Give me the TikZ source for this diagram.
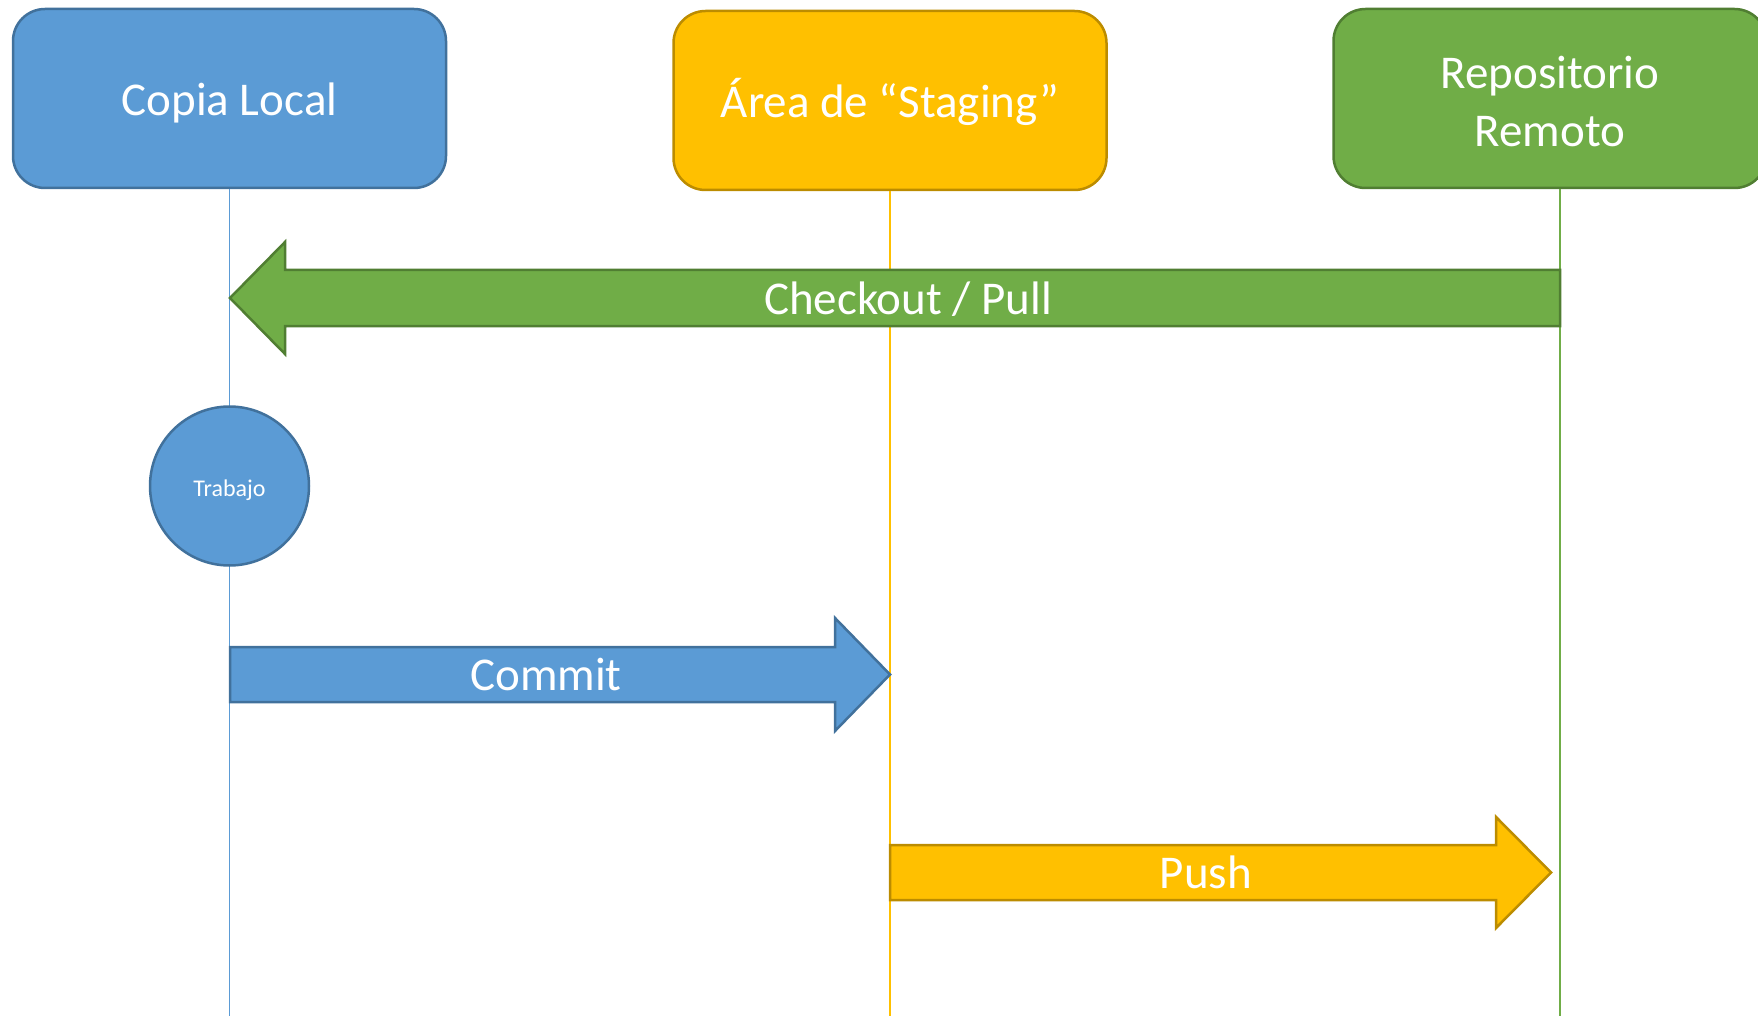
\documentclass[tikz,border=0pt]{standalone}
\usepackage{fontspec}
\setmainfont{Carlito}
\usepackage{tikz}
\definecolor{gitblue}{HTML}{5B9BD5}
\definecolor{gitblueline}{HTML}{41719C}
\definecolor{gityellow}{HTML}{FFC000}
\definecolor{gityellowline}{HTML}{BC8C00}
\definecolor{gitgreen}{HTML}{70AD47}
\definecolor{gitgreenline}{HTML}{507E32}
\tikzset{
    lane/.style={rectangle, rounded corners=32pt, minimum width=433pt, minimum height=179pt,
        line width=2.5pt, text=white, align=center, font=\fontsize{47}{58}\selectfont},
    one line/.style={text height=45pt, text depth=10pt},
    lifeline/.style={line width=1.5pt},
    block/.style={line width=2.5pt, line join=miter},
    block label/.style={text=white, font=\fontsize{47}{58}\selectfont, text height=42pt, text depth=10pt},
}

\begin{document}
\begin{tikzpicture}[x=1pt, y=-1pt]
\useasboundingbox (0,0) rectangle (1758,1016);
\clip (0,0) rectangle (1758,1016);

% heads of the lanes
\node[lane, one line, fill=gitblue, draw=gitblueline] (local) at (229.5,98.5) {Copia Local};
\node[lane, one line, fill=gityellow, draw=gityellowline] (staging) at (890,100.5) {Área de “Staging”};
\node[lane, fill=gitgreen, draw=gitgreenline] (remote) at (1550,98.5) {\rule{0pt}{38pt}Repositorio\\Remoto};

% lifelines
\coordinate (local end) at (229.5,1016);
\coordinate (staging end) at (890,1016);
\coordinate (remote top) at (1560,189);
\coordinate (remote end) at (1560,1016);
\draw[lifeline, gitblue] (local.south) -- (local end);
\draw[lifeline, gityellow] (staging.south) -- (staging end);
\draw[lifeline, gitgreen] (remote top) -- (remote end);

% Checkout / Pull
\filldraw[block, fill=gitgreen, draw=gitgreenline] (1560,270) -- (285,270) -- (285,242) -- (230,298)
    -- (285,354) -- (285,326) -- (1560,326) -- cycle;
\node[block label] (pull) at (908,298) {Checkout / Pull};

% work on the local copy
\node[circle, minimum size=159pt, line width=2.5pt, fill=gitblue, draw=gitblueline, text=white,
    font=\fontsize{24}{29}\selectfont, text height=25pt, text depth=5pt] (work) at (229.5,486) {Trabajo};

% Commit
\filldraw[block, fill=gitblue, draw=gitblueline] (230,647) -- (835,647) -- (835,618) -- (890,674.5)
    -- (835,731) -- (835,702) -- (230,702) -- cycle;
\node[block label] (commit) at (546,674.5) {Commit};

% Push
\filldraw[block, fill=gityellow, draw=gityellowline] (890,845) -- (1496,845) -- (1496,817) -- (1551,872.5)
    -- (1496,928) -- (1496,900) -- (890,900) -- cycle;
\node[block label] (push) at (1206,872.5) {Push};
\end{tikzpicture}
\end{document}
